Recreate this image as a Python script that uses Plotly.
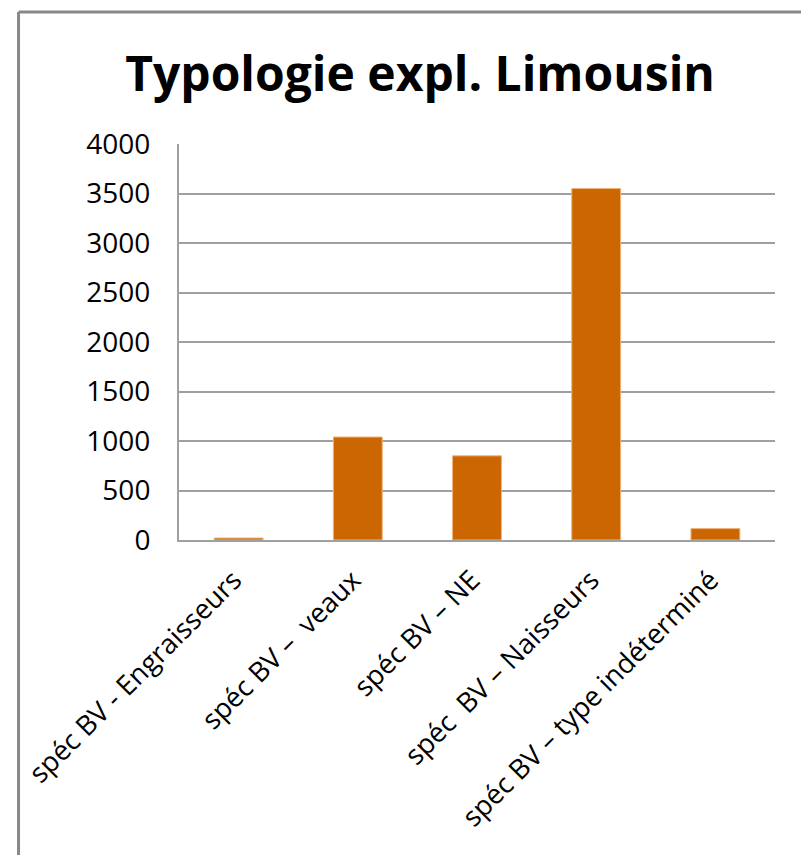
import plotly.graph_objects as go

categories = [
    "spéc BV - Engraisseurs",
    "spéc BV –  veaux",
    "spéc BV – NE",
    "spéc  BV – Naisseurs",
    "spéc BV – type indéterminé",
]
values = [20, 1040, 850, 3550, 115]
y_ticks = [0, 500, 1000, 1500, 2000, 2500, 3000, 3500, 4000]

fig = go.Figure(
    go.Bar(
        x=categories,
        y=values,
        marker=dict(color="#CC6600", line=dict(color="#F0B27A", width=1)),
        width=0.41,
    )
)

# page has an 8px body margin, so figure coords = page coords - 8
fig.update_layout(
    width=809,
    height=855,
    margin=dict(l=169, r=42, t=136, b=323),
    paper_bgcolor="white",
    plot_bgcolor="white",
    showlegend=False,
    title=dict(
        text="<b>Typologie expl. Limousin</b>",
        font=dict(family="Open Sans", size=48, color="black"),
        x=(420 - 8) / 809,
        xanchor="center",
        y=1 - 66 / 855,
        yanchor="middle",
        yref="container",
    ),
    font=dict(family="Open Sans", color="black"),
    xaxis=dict(
        tickangle=-45,
        tickfont=dict(family="Open Sans", size=27.5, color="black"),
        ticksuffix="\u00a0",
        showline=True,
        linecolor="#A0A0A0",
        linewidth=2,
        showgrid=False,
        ticks="",
        ticklabelstandoff=6,
    ),
    yaxis=dict(
        range=[0, 4000],
        tickvals=y_ticks,
        tickfont=dict(family="Open Sans", size=28, color="black"),
        showgrid=True,
        gridcolor="#A0A0A0",
        gridwidth=1.5,
        showline=True,
        linecolor="#A0A0A0",
        linewidth=2,
        ticks="",
        ticklabelstandoff=21,
        zeroline=False,
    ),
    shapes=[
        dict(type="line", xref="paper", yref="paper",
             x0=(8 - 169) / 598, x1=(8 - 169) / 598, y0=(532 - 4) / 396, y1=-0.9,
             line=dict(color="#888888", width=3)),
        dict(type="line", xref="paper", yref="paper",
             x0=(8 - 169) / 598, x1=1.2, y0=(532 - 4) / 396, y1=(532 - 4) / 396,
             line=dict(color="#888888", width=3)),
    ],
)

fig.write_html("out.html")
